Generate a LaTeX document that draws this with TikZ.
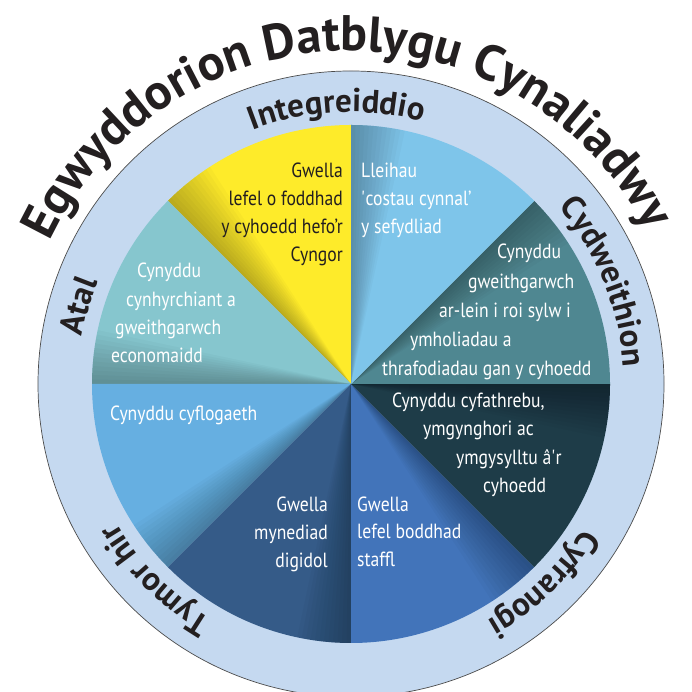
\documentclass[tikz,border=0pt]{standalone}
\usepackage{fontspec}
\usetikzlibrary{decorations.text,calc}
\newfontfamily\wedgefamily[FakeStretch=0.86]{PT Sans}
\newfontfamily\ringfamily{PT Sans}
\definecolor{ringc}{HTML}{C5D9F0}
\definecolor{cyel}{HTML}{FEEB2A}
\definecolor{cltl}{HTML}{86C6CE}
\definecolor{cblu}{HTML}{66AFE1}
\definecolor{cdbl}{HTML}{355B88}
\definecolor{cmbl}{HTML}{4274BA}
\definecolor{cdtl}{HTML}{1E3C48}
\definecolor{ctl}{HTML}{4F8791}
\definecolor{csky}{HTML}{7EC5EA}
\definecolor{ink}{HTML}{231F20}
\newcommand{\ttlfont}{\ringfamily\bfseries\fontsize{50}{50}\selectfont\color{ink}}
\newcommand{\rngfont}{\ringfamily\bfseries\fontsize{33}{33}\selectfont\color{ink}}
\begin{document}
\begin{tikzpicture}[x=1pt,y=1pt,
  wtxt/.style={font=\wedgefamily\fontsize{20.5}{24}\selectfont, text=white, inner sep=0pt},
  dtxt/.style={wtxt, text=ink},
  ringlabel/.style={decorate, decoration={text along path, text align=center, text={|\rngfont|#1}}},
  titlelabel/.style={decorate, decoration={text along path, text align=center, text={|\ttlfont|#1}}}]
\useasboundingbox (0,0) rectangle (691,692);
\coordinate (c) at (351,308);
% ring
\fill[ringc] (c) circle[radius=313];
\draw[gray!60!black, line width=0.7pt] (c) circle[radius=313];
% wedges
\foreach \a/\col in {90/cyel,135/cltl,180/cblu,225/cdbl,270/cmbl,315/cdtl,0/ctl,45/csky}{
  \fill[\col] (c) -- ++(\a:259) arc[start angle=\a, end angle=\a+45, radius=259] -- cycle;
  \foreach \k in {1,...,12}{
    \fill[black, opacity=0.022] (c) -- ++(\a+45-\k:259) arc[start angle=\a+45-\k, end angle=\a+45, radius=259] -- cycle;
  }
}
% title
\path[titlelabel={Egwyddorion Datblygu Cynaliadwy}] ($(c)+(174:333)$) arc[start angle=174, end angle=8, radius=333];
% ring labels
\path[ringlabel={Integreiddio}] ($(c)+(128:272)$) arc[start angle=128, end angle=58, radius=272];
\path[ringlabel={Cydweithion}] ($(c)+(57:273)$) arc[start angle=57, end angle=-13, radius=273];
\path[ringlabel={Cyfranogi}] ($(c)+(-11:273)$) arc[start angle=-11, end angle=-81, radius=273];
\path[ringlabel={Tymor hir}] ($(c)+(260:273)$) arc[start angle=260, end angle=190, radius=273];
\path[ringlabel={Atal}] ($(c)+(199:273)$) arc[start angle=199, end angle=129, radius=273];
% yellow wedge
\node[dtxt, anchor=base east] (y1) at (343,514) {Gwella};
\node[dtxt, anchor=base east] (y2) at (343,486) {lefel o foddhad};
\node[dtxt, anchor=base east] (y3) at (343,458) {y cyhoedd hefo’r};
\node[dtxt, anchor=base east] (y4) at (343,430) {Cyngor};
% sky wedge
\node[wtxt, anchor=base west] (s1) at (361,514) {Lleihau};
\node[wtxt, anchor=base west] (s2) at (361,486) {\textquotesingle costau cynnal’};
\node[wtxt, anchor=base west] (s3) at (361,458) {y sefydliad};
% teal wedge
\node[wtxt, anchor=base west] (t1) at (497,433) {Cynyddu};
\node[wtxt, anchor=base west] (t2) at (468,403) {gweithgarwch};
\node[wtxt, anchor=base west] (t3) at (439,374) {ar-lein i roi sylw i};
\node[wtxt, anchor=base west] (t4) at (410,345) {ymholiadau a};
\node[wtxt, anchor=base west] (t5) at (382,316) {thrafodiadau gan y cyhoedd};
% light teal wedge
\node[wtxt, anchor=base west] (l1) at (137,414) {Cynyddu};
\node[wtxt, anchor=base west] (l2) at (126,385) {cynhyrchiant a};
\node[wtxt, anchor=base west] (l3) at (115,357) {gweithgarwch};
\node[wtxt, anchor=base west] (l4) at (111,329) {economaidd};
% blue wedge
\node[wtxt, anchor=base west] (b1) at (110,271) {Cynyddu cyflogaeth};
% dark blue wedge
\node[wtxt, anchor=base east] (d1) at (328,180) {Gwella};
\node[wtxt, anchor=base east] (d2) at (328,152) {mynediad};
\node[wtxt, anchor=base east] (d3) at (328,124) {digidol};
% medium blue wedge
\node[wtxt, anchor=base west] (m1) at (357,180) {Gwella};
\node[wtxt, anchor=base west] (m2) at (357,153) {lefel boddhad};
\node[wtxt, anchor=base west] (m3) at (357,125) {staffl};
% dark teal wedge
\node[wtxt, anchor=base west] (k1) at (392,284) {Cynyddu cyfathrebu,};
\node[wtxt, anchor=base west] (k2) at (423,256) {ymgynghori ac};
\node[wtxt, anchor=base west] (k3) at (456,227) {ymgysylltu â\textquotesingle r};
\node[wtxt, anchor=base west] (k4) at (483,199) {cyhoedd};
\end{tikzpicture}
\end{document}
